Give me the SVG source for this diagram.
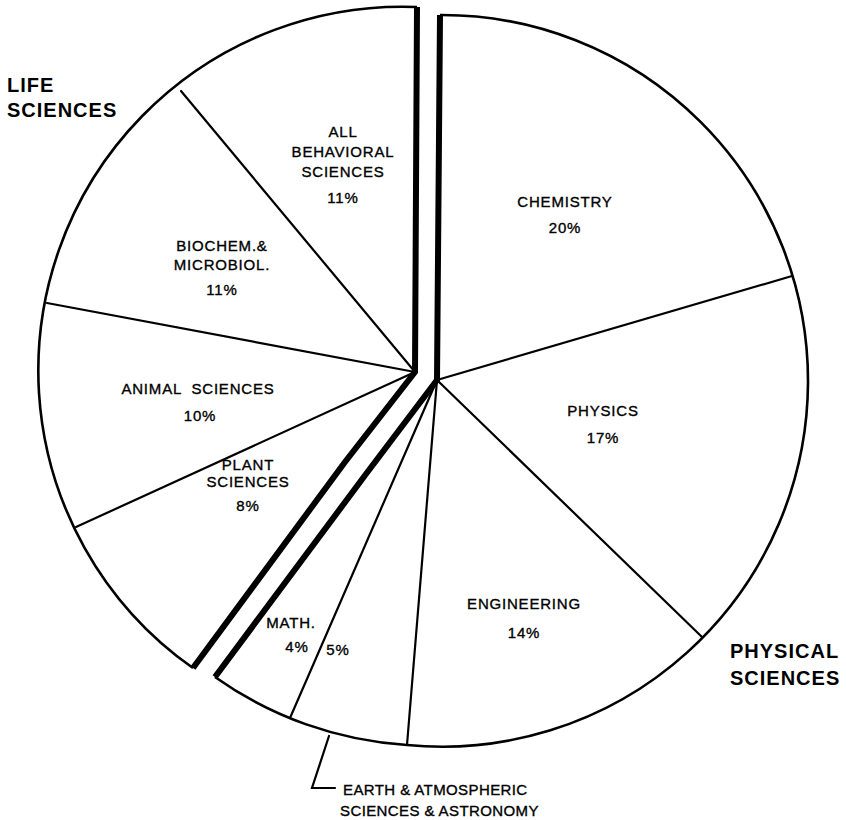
<svg xmlns="http://www.w3.org/2000/svg" width="846" height="820" viewBox="0 0 846 820">
<style>
.arc{fill:none;stroke:#000;stroke-width:2.6;stroke-linejoin:round}
.split{fill:none;stroke:#000;stroke-width:6;stroke-linejoin:miter;stroke-linecap:butt}
.div{fill:none;stroke:#000;stroke-width:2.2;stroke-linecap:round}
.lbl{font-family:"Liberation Sans",Arial,sans-serif;font-size:15px;letter-spacing:0.8px;fill:#000;stroke:#000;stroke-width:0.35;text-anchor:middle;white-space:pre}
.big{font-family:"Liberation Sans",Arial,sans-serif;font-size:20px;font-weight:bold;letter-spacing:1px;fill:#000}
.note{font-family:"Liberation Sans",Arial,sans-serif;font-size:15px;letter-spacing:0.4px;fill:#000;stroke:#000;stroke-width:0.35}
</style>
<rect width="846" height="820" fill="#fff"/>

<g id="life-sciences-piece">
  <path class="arc" d="M193,668 A364,364 0 0 1 39,393 A364,364 0 0 1 417,7"/>
  <polyline class="split" points="417,7 415,372 345,462 193,668"/>
</g>
<g id="physical-sciences-piece">
  <path class="arc" d="M215,677 A372,372 0 0 0 407,745 A366,366 0 0 0 808,383 A366,366 0 0 0 440,15"/>
  <polyline class="split" points="440,15 437,380 366,474 215,677"/>
</g>

<g id="connectors">
  <line class="div" x1="415" y1="372" x2="181" y2="91"/>
  <line class="div" x1="415" y1="372" x2="47" y2="303"/>
  <line class="div" x1="415" y1="372" x2="76" y2="527"/>
  <line class="div" x1="437" y1="380" x2="792" y2="276"/>
  <line class="div" x1="437" y1="380" x2="702" y2="637"/>
  <line class="div" x1="437" y1="380" x2="407" y2="745"/>
  <line class="div" x1="437" y1="380" x2="290" y2="718"/>
  <polyline class="div" points="329,736 312,788 335,788"/>
</g>

<g id="label-life"><text class="big" x="7" y="92">LIFE</text><text class="big" x="7" y="117">SCIENCES</text></g>
<g id="label-physical"><text class="big" x="730" y="658">PHYSICAL</text><text class="big" x="730" y="685">SCIENCES</text></g>

<g id="behavioral"><text class="lbl" x="343" y="137">ALL</text><text class="lbl" x="343" y="157">BEHAVIORAL</text><text class="lbl" x="343" y="177">SCIENCES</text><text class="lbl" x="343" y="203">11%</text></g>
<g id="biochem"><text class="lbl" x="222" y="251">BIOCHEM.&amp;</text><text class="lbl" x="222" y="270">MICROBIOL.</text><text class="lbl" x="222" y="295">11%</text></g>
<g id="animal"><text class="lbl" x="198" y="394">ANIMAL  SCIENCES</text><text class="lbl" x="200" y="421">10%</text></g>
<g id="plant"><text class="lbl" x="248" y="470">PLANT</text><text class="lbl" x="248" y="487">SCIENCES</text><text class="lbl" x="248" y="511">8%</text></g>
<g id="chemistry"><text class="lbl" x="565" y="207">CHEMISTRY</text><text class="lbl" x="565" y="233">20%</text></g>
<g id="physics"><text class="lbl" x="603" y="416">PHYSICS</text><text class="lbl" x="603" y="443">17%</text></g>
<g id="engineering"><text class="lbl" x="524" y="609">ENGINEERING</text><text class="lbl" x="524" y="638">14%</text></g>
<g id="math"><text class="lbl" x="291" y="628">MATH.</text><text class="lbl" x="297" y="652">4%</text></g>
<g id="earth"><text class="lbl" x="338" y="655">5%</text>
  <text class="note" x="343" y="795">EARTH &amp; ATMOSPHERIC</text>
  <text class="note" x="340" y="816">SCIENCES &amp; ASTRONOMY</text></g>
</svg>
